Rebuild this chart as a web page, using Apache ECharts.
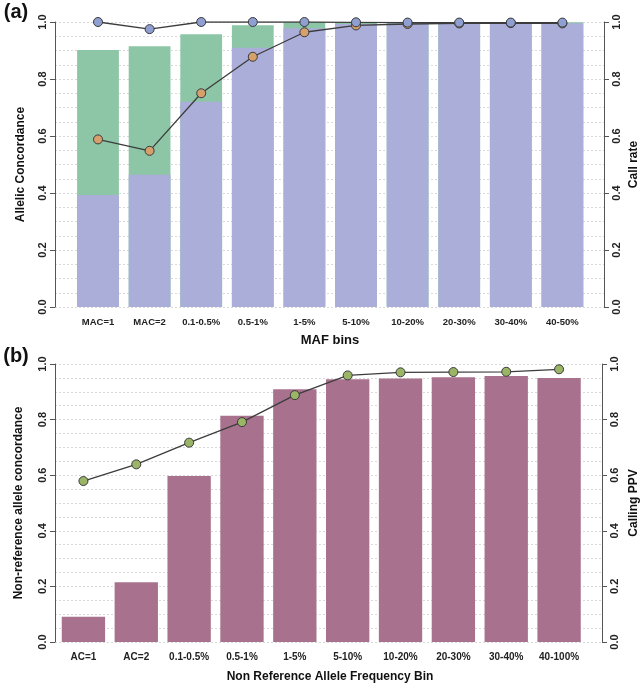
<!DOCTYPE html>
<html>
<head>
<meta charset="utf-8">
<script src="https://cdn.jsdelivr.net/npm/echarts@6/dist/echarts.min.js"></script>
<style>
html,body{margin:0;padding:0;background:#fff;}
#chart{width:643px;height:688px;}
</style>
</head>
<body>
<div id="chart"></div>
<script>
// ---------- Panel (a) data ----------
var catsA = ['MAC=1','MAC=2','0.1-0.5%','0.5-1%','1-5%','5-10%','10-20%','20-30%','30-40%','40-50%'];
var concordTotalA = [0.902, 0.915, 0.957, 0.989, 0.999, 0.999, 0.999, 0.999, 0.999, 0.999];
var concordBlueA  = [0.393, 0.464, 0.720, 0.910, 0.978, 0.993, 0.995, 0.996, 0.996, 0.996];
var callRateBlueA   = [1.000, 0.975, 1.000, 1.000, 1.000, 0.999, 0.998, 0.998, 0.998, 0.998];
var callRateOrangeA = [0.588, 0.548, 0.750, 0.878, 0.964, 0.988, 0.993, 0.995, 0.996, 0.995];
// ---------- Panel (b) data ----------
var catsB = ['AC=1','AC=2','0.1-0.5%','0.5-1%','1-5%','5-10%','10-20%','20-30%','30-40%','40-100%'];
var nonRefConcB = [0.091, 0.215, 0.597, 0.814, 0.909, 0.945, 0.948, 0.952, 0.957, 0.950];
var callingPPVB = [0.579, 0.639, 0.717, 0.791, 0.888, 0.959, 0.970, 0.971, 0.972, 0.981];

var FONT = 'Liberation Sans, Arial, sans-serif';
var axisCol = '#555';
var gridCol = '#d9d9d9';

function visibleY(gridIndex, pos) {
  return {
    gridIndex: gridIndex, type: 'value', position: pos, min: 0, max: 1, interval: 0.2,
    axisLine: {show: true, lineStyle: {color: axisCol, width: 1}},
    axisTick: {show: true, length: 5, inside: false, lineStyle: {color: axisCol}},
    axisLabel: {rotate: 90, margin: 7, fontFamily: FONT, fontWeight: 'bold', fontSize: 11, color: '#222',
      formatter: function (v) { return v.toFixed(1); }},
    splitLine: {show: false}
  };
}
function gridY(gridIndex) {
  return {
    gridIndex: gridIndex, type: 'value', min: 0, max: 1, interval: 0.05,
    axisLine: {show: false}, axisTick: {show: false}, axisLabel: {show: false},
    splitLine: {show: true, lineStyle: {color: gridCol, type: [2, 2], width: 1}}
  };
}
function hiddenY(gridIndex) {
  return {gridIndex: gridIndex, type: 'value', min: 0, max: 1, show: false, splitLine: {show: false}};
}
function hiddenX(gridIndex) {
  return {gridIndex: gridIndex, type: 'category', data: [''], show: false};
}
function catX(gridIndex, cats, fs) {
  return {
    gridIndex: gridIndex, type: 'category', data: cats,
    axisLine: {show: false}, axisTick: {show: false},
    axisLabel: {interval: 0, margin: 10, fontFamily: FONT, fontWeight: 'bold', fontSize: fs, color: '#222'},
    splitLine: {show: false}
  };
}
function lineSeries(xi, yi, data, fill) {
  return {
    type: 'line', xAxisIndex: xi, yAxisIndex: yi, data: data, z: 5,
    symbol: 'circle', symbolSize: 9,
    lineStyle: {color: '#3c3c3c', width: 1.3},
    itemStyle: {color: fill, borderColor: '#3a3a3a', borderWidth: 1},
    animation: false
  };
}

var option = {
  backgroundColor: '#fff',
  animation: false,
  grid: [
    {left: 55, width: 549, top: 22, height: 285},
    {left: 72.2, width: 516, top: 22, height: 285},
    {left: 55, width: 547, top: 364, height: 278},
    {left: 57, width: 528.5, top: 364, height: 278}
  ],
  xAxis: [hiddenX(0), catX(1, catsA, 9.5), hiddenX(2), catX(3, catsB, 10)],
  yAxis: [
    visibleY(0, 'left'), visibleY(0, 'right'), gridY(0),
    hiddenY(1), hiddenY(1),
    visibleY(2, 'left'), visibleY(2, 'right'), gridY(2),
    hiddenY(3), hiddenY(3)
  ],
  series: [
    {type: 'bar', xAxisIndex: 1, yAxisIndex: 3, data: concordTotalA, barWidth: '81%',
      itemStyle: {color: '#8dc6a6'}},
    {type: 'bar', xAxisIndex: 1, yAxisIndex: 3, data: concordBlueA, barWidth: '81%', barGap: '-100%',
      itemStyle: {color: '#aaaed9'}},
    lineSeries(1, 4, callRateOrangeA, '#d6a06c'),
    lineSeries(1, 4, callRateBlueA, '#8f9fd2'),
    {type: 'bar', xAxisIndex: 3, yAxisIndex: 8, data: nonRefConcB, barWidth: '82%',
      itemStyle: {color: '#a8728e'}},
    lineSeries(3, 9, callingPPVB, '#9bb567')
  ],
  graphic: [
    {type: 'text', x: 16, y: 12, style: {text: '(a)', font: 'bold 20px ' + FONT, fill: '#111', align: 'center', verticalAlign: 'middle'}},
    {type: 'text', x: 21, y: 164.5, rotation: Math.PI / 2, style: {text: 'Allelic Concordance', font: 'bold 12px ' + FONT, fill: '#111', align: 'center', verticalAlign: 'middle'}},
    {type: 'text', x: 634, y: 164.5, rotation: Math.PI / 2, style: {text: 'Call rate', font: 'bold 12px ' + FONT, fill: '#111', align: 'center', verticalAlign: 'middle'}},
    {type: 'text', x: 330, y: 340, style: {text: 'MAF bins', font: 'bold 13px ' + FONT, fill: '#111', align: 'center', verticalAlign: 'middle'}},
    {type: 'text', x: 16, y: 356, style: {text: '(b)', font: 'bold 20px ' + FONT, fill: '#111', align: 'center', verticalAlign: 'middle'}},
    {type: 'text', x: 19, y: 503, rotation: Math.PI / 2, style: {text: 'Non-reference allele concordance', font: 'bold 12px ' + FONT, fill: '#111', align: 'center', verticalAlign: 'middle'}},
    {type: 'text', x: 634, y: 503, rotation: Math.PI / 2, style: {text: 'Calling PPV', font: 'bold 12px ' + FONT, fill: '#111', align: 'center', verticalAlign: 'middle'}},
    {type: 'text', x: 330, y: 677, style: {text: 'Non Reference Allele Frequency Bin', font: 'bold 12px ' + FONT, fill: '#111', align: 'center', verticalAlign: 'middle'}}
  ]
};
var chart = echarts.init(document.getElementById('chart'), null, {renderer: 'canvas'});
chart.setOption(option);
</script>
</body>
</html>
